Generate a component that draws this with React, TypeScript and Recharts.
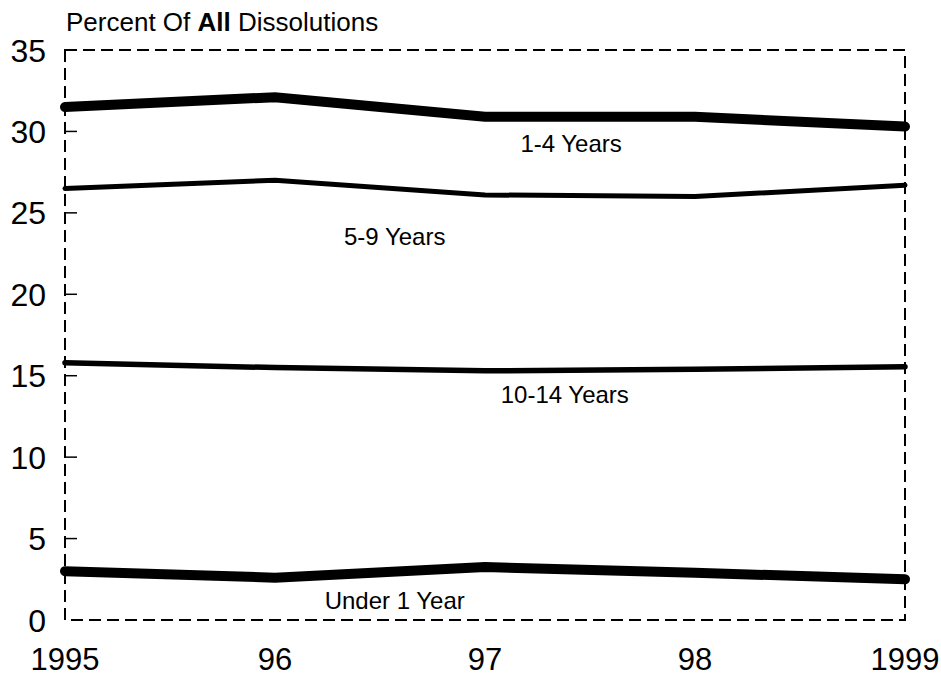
import { LineChart, Line, XAxis, YAxis, ReferenceArea, ReferenceDot } from 'recharts';

// values (percent of all dissolutions)
const years = [1995, 1996, 1997, 1998, 1999];
const oneToFour = [31.5, 32.1, 30.9, 30.9, 30.3];
const fiveToNine = [26.5, 27.0, 26.1, 26.0, 26.7];
const tenToFourteen = [15.8, 15.5, 15.3, 15.4, 15.55];
const underOne = [3.0, 2.6, 3.25, 2.9, 2.5];

const yTicks = [0, 5, 10, 15, 20, 25, 30, 35];
const yearLabels = ['1995', '96', '97', '98', '1999'];

// in-plot series labels, placed in data coordinates
const seriesLabels = [
  { text: '1-4 Years', year: 1997.41, value: 29.23 },
  { text: '5-9 Years', year: 1996.57, value: 23.58 },
  { text: '10-14 Years', year: 1997.38, value: 13.82 },
  { text: 'Under 1 Year', year: 1996.57, value: 1.17 },
];

const data = years.map((year, i) => ({
  year,
  oneToFour: oneToFour[i],
  fiveToNine: fiveToNine[i],
  tenToFourteen: tenToFourteen[i],
  underOne: underOne[i],
}));

const FONT = '"Liberation Sans", Arial, sans-serif';
const PLOT_LEFT = 65;

const XTick = (props: any) => {
  const { x, payload } = props;
  const idx = years.indexOf(payload.value);
  return (
    <text x={x} y={670} textAnchor="middle" fontSize={31} fontFamily={FONT} fill="#000">
      {yearLabels[idx]}
    </text>
  );
};

const YTick = (props: any) => {
  const { y, payload } = props;
  const v = payload.value;
  return (
    <g>
      <text x={46} y={y} dy="0.36em" textAnchor="end" fontSize={32} fontFamily={FONT} fill="#000">
        {v}
      </text>
      {v > 0 && v < 35 && (
        <line x1={PLOT_LEFT} x2={PLOT_LEFT + 12} y1={y} y2={y} stroke="#000" strokeWidth={1.5} />
      )}
    </g>
  );
};

export default function App() {
  return (
    <div style={{ position: 'fixed', left: 0, top: 0, width: 941, height: 677, background: '#fff' }}>
      <div
        style={{
          position: 'absolute',
          left: 66,
          top: 9,
          fontFamily: FONT,
          fontSize: 26,
          lineHeight: '26px',
          color: '#000',
          whiteSpace: 'nowrap',
        }}
      >
        Percent Of <b>All</b> Dissolutions
      </div>
      <LineChart width={941} height={677} data={data} margin={{ top: 50, right: 36, left: 0, bottom: 0 }}>
        <XAxis
          dataKey="year"
          type="number"
          domain={[1995, 1999]}
          ticks={years}
          axisLine={false}
          tickLine={false}
          height={57}
          tick={<XTick />}
        />
        <YAxis
          domain={[0, 35]}
          ticks={yTicks}
          axisLine={false}
          tickLine={false}
          width={65}
          tick={<YTick />}
        />
        <ReferenceArea
          x1={1995}
          x2={1999}
          y1={0}
          y2={35}
          fill="none"
          stroke="#000"
          strokeWidth={2}
          strokeDasharray="12 6"
        />
        <Line dataKey="oneToFour" stroke="#000" strokeWidth={10} dot={false} strokeLinecap="round" isAnimationActive={false} />
        <Line dataKey="fiveToNine" stroke="#000" strokeWidth={5} dot={false} strokeLinecap="round" isAnimationActive={false} />
        <Line dataKey="tenToFourteen" stroke="#000" strokeWidth={5.5} dot={false} strokeLinecap="round" isAnimationActive={false} />
        <Line dataKey="underOne" stroke="#000" strokeWidth={10} dot={false} strokeLinecap="round" isAnimationActive={false} />
        {seriesLabels.map((l) => (
          <ReferenceDot
            key={l.text}
            x={l.year}
            y={l.value}
            r={0}
            fill="none"
            stroke="none"
            label={{ value: l.text, position: 'center', fontSize: 24, fontFamily: FONT, fill: '#000' }}
          />
        ))}
      </LineChart>
    </div>
  );
}
